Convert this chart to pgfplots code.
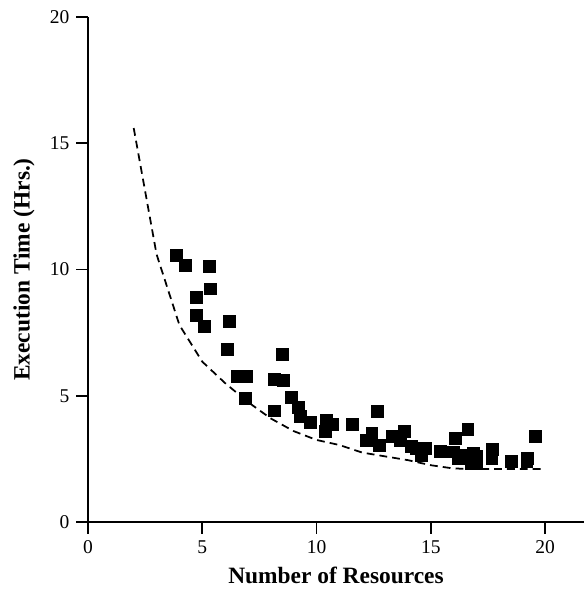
\documentclass[border=0pt]{standalone}
\usepackage{fontspec}
\setmainfont{Liberation Serif}
\usepackage{pgfplots}
\pgfplotsset{compat=1.18}
\begin{document}
\fontsize{10pt}{12pt}\selectfont
\begin{tikzpicture}
\begin{axis}[
  x=11.72pt, y=12.95pt,
  xmin=0, xmax=21.7, ymin=0, ymax=20,
  axis lines*=left,
  axis line style={line width=0.9pt},
  tick align=outside,
  major tick length=6pt,
  tick style={line width=0.9pt, black},
  xtick={0,5,10,15,20},
  ytick={0,5,10,15,20},
  /pgf/number format/assume math mode=true,
  tick label style={font=\fontsize{10pt}{12pt}\selectfont},
  xlabel={Number of Resources},
  ylabel={Execution Time (Hrs.)},
  label style={font=\fontsize{12pt}{14pt}\selectfont\bfseries},
  xlabel style={at={(axis description cs:0.5,-0.105)}, anchor=center},
  ylabel style={at={(axis description cs:-0.129,0.5)}, anchor=center, rotate=0},
  clip=false,
]
\addplot[black, line width=0.9pt, dash pattern=on 4pt off 2.6pt] coordinates {
(2,15.6) (3,10.6) (4,7.8) (5,6.35) (6,5.5) (7,4.75) (8,4.1) (9,3.6) (10,3.25)
(11,3.05) (12,2.75) (13,2.6) (14,2.45) (15,2.25) (16,2.12) (17,2.1) (18,2.1) (19,2.1) (20,2.1)
};
\addplot[only marks, mark=square*, mark size=3.05pt, black] coordinates {
(3.88,10.57) (4.27,10.15) (5.30,10.11) (5.34,9.23) (4.73,8.88) (4.76,8.20)
(5.11,7.74) (6.17,7.93) (6.11,6.85) (6.54,5.78) (6.94,5.78) (6.90,4.91)
(8.52,6.64) (8.14,5.66) (8.55,5.60) (8.91,4.92) (9.20,4.53) (9.28,4.17)
(8.14,4.40) (9.72,3.93) (10.42,4.04) (10.71,3.88) (10.37,3.60) (11.57,3.88)
(12.68,4.37) (12.42,3.51) (12.17,3.25) (12.74,3.02) (13.33,3.38) (13.84,3.58)
(13.65,3.25) (14.14,3.01) (14.38,2.92) (14.60,2.65) (14.75,2.92) (15.40,2.81)
(16.09,3.31) (16.62,3.67) (15.99,2.78) (16.21,2.52) (16.57,2.65) (16.86,2.72)
(17.01,2.59) (16.79,2.32) (16.98,2.32) (17.71,2.88) (17.67,2.52) (18.51,2.39)
(19.24,2.52) (19.20,2.39) (19.59,3.38)
};
\coordinate (bl) at (axis cs:-3.85,-2.73);
\coordinate (tr) at (axis cs:21.71,20.67);
\end{axis}
\pgfresetboundingbox
\path[use as bounding box] (bl) rectangle (tr);
\end{tikzpicture}
\end{document}
